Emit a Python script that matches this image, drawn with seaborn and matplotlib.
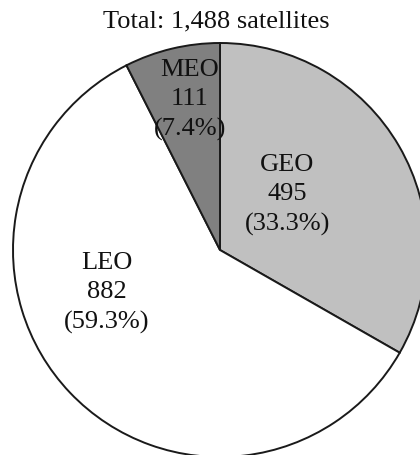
import matplotlib
matplotlib.use("Agg")
import matplotlib.pyplot as plt
import seaborn as sns

# Satellite counts by orbit class
orbits = ["GEO", "LEO", "MEO"]
counts = [495, 882, 111]
shares = [33.3, 59.3, 7.4]
title = "Total: 1,488 satellites"

sns.set_theme(style="white")
plt.rcParams["font.family"] = ["Liberation Serif", "DejaVu Serif"]

colors = ["#c0c0c0", "#ffffff", "#808080"]
# label anchor points (x, y) in pie units, radius = 1
label_xy = [(0.324, 0.266), (-0.546, -0.208), (-0.145, 0.725)]

W, H, R = 420, 455, 207  # figure size and pie radius in pixels
cx, cy = 220, 250         # pie centre in pixels from top-left

fig = plt.figure(figsize=(W / 100, H / 100), dpi=100)
ax = fig.add_axes([0, 0, 1, 1])
ax.pie(counts, colors=colors, startangle=90, counterclock=False,
       radius=1.0, wedgeprops=dict(edgecolor="#1a1a1a", linewidth=1.4))
ax.set_xlim(-cx / R, (W - cx) / R)
ax.set_ylim(-(H - cy) / R, cy / R)
ax.set_aspect("auto")
ax.axis("off")

for name, n, pct, (x, y) in zip(orbits, counts, shares, label_xy):
    ax.text(x, y, f"{name}\n{n}\n({pct:.1f}%)", ha="center", va="center",
            fontsize=19, linespacing=1.45, color="#111111")

ax.text(216 / W, 1 - 27 / H, title, transform=ax.transAxes, ha="center",
        va="baseline", fontsize=19, color="#111111")

fig.savefig("out.png", dpi=100)
